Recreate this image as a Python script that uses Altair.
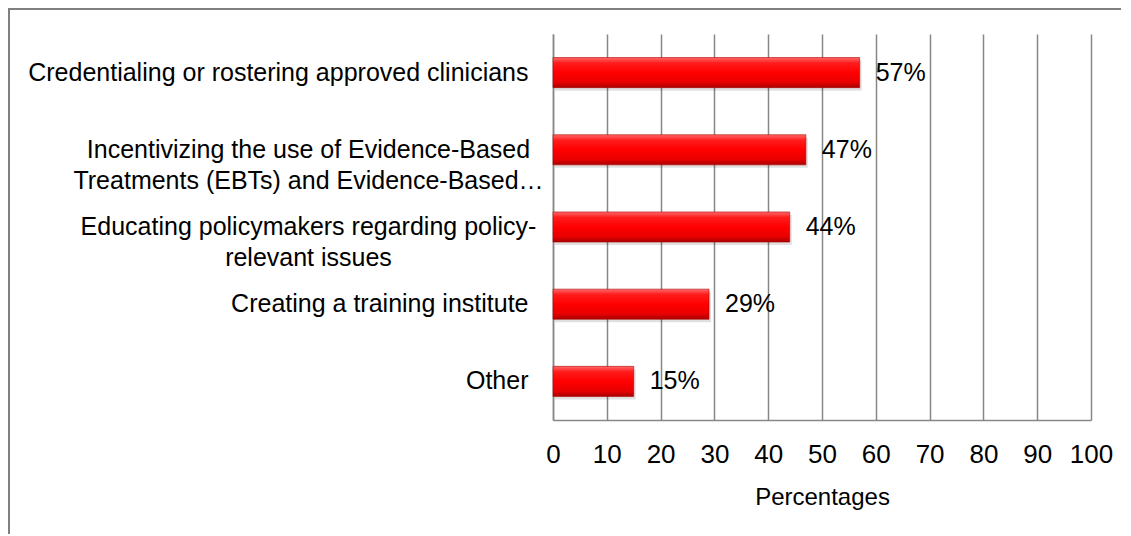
import altair as alt
import pandas as pd

categories = [
    "Credentialing or rostering approved clinicians",
    "Incentivizing the use of Evidence-Based\nTreatments (EBTs) and Evidence-Based…",
    "Educating policymakers regarding policy-\nrelevant issues",
    "Creating a training institute",
    "Other",
]
values = [57, 47, 44, 29, 15]
value_labels = ["57%", "47%", "44%", "29%", "15%"]
x_ticks = [0, 10, 20, 30, 40, 50, 60, 70, 80, 90, 100]
x_title = "Percentages"

df = pd.DataFrame({"category": categories, "value": values, "label": value_labels})

FONT = "Liberation Sans"
GRAY = "#878787"
W, H = 538, 386

multi_test = "indexof(datum.value, '\\n') >= 0"

x_enc = alt.X(
    "value:Q",
    scale=alt.Scale(domain=[0, 100], nice=False),
    title=x_title,
    axis=alt.Axis(
        values=x_ticks,
        grid=True,
        gridColor=GRAY,
        gridWidth=1.5,
        domain=True,
        domainColor=GRAY,
        domainWidth=1.5,
        ticks=False,
        labelFont=FONT,
        labelFontSize=26,
        labelColor="#000000",
        labelPadding=21,
        labelFlush=False,
        titleFont=FONT,
        titleFontSize=24,
        titleFontWeight="normal",
        titleColor="#000000",
        titlePadding=18,
    ),
)

y_enc = alt.Y(
    "category:N",
    sort=categories,
    title=None,
    scale=alt.Scale(paddingInner=0.61, paddingOuter=0.305),
    axis=alt.Axis(
        labelExpr="split(datum.label, '\\n')",
        labelFont=FONT,
        labelFontSize=25,
        labelColor="#000000",
        labelLineHeight=31,
        labelLimit=700,
        labelAlign=alt.condition(multi_test, alt.value("center"), alt.value("right")),
        labelPadding=alt.condition(multi_test, alt.value(245), alt.value(25)),
        ticks=False,
        domain=True,
        domainColor=GRAY,
        domainWidth=1.5,
        grid=False,
    ),
)

bar_fill = alt.Gradient(
    gradient="linear",
    x1=0, x2=0, y1=0, y2=1,
    stops=[
        alt.GradientStop(color="#ff6a6a", offset=0),
        alt.GradientStop(color="#ff1c1c", offset=0.18),
        alt.GradientStop(color="#ff0000", offset=0.5),
        alt.GradientStop(color="#e80000", offset=0.82),
        alt.GradientStop(color="#a80000", offset=1),
    ],
)

base = alt.Chart(df)

shadow = base.mark_bar(color="#000000", opacity=0.12).encode(
    x=x_enc, y=y_enc, xOffset=alt.value(2), yOffset=alt.value(3)
)

bars = base.mark_bar(color=bar_fill, stroke="#b00000", strokeWidth=0.6).encode(
    x=x_enc, y=y_enc
)

labels = base.mark_text(
    align="left", baseline="middle", dx=16, font=FONT, fontSize=25, color="#000000"
).encode(x="value:Q", y=alt.Y("category:N", sort=categories), text="label:N")

frame_df = pd.DataFrame({"k": [0]})
frame_left = alt.Chart(frame_df).mark_rule(color="#808080", strokeWidth=2, clip=False).encode(
    x=alt.value(-544), y=alt.value(-25), y2=alt.value(H + 200)
)
frame_top = alt.Chart(frame_df).mark_rule(color="#808080", strokeWidth=2, clip=False).encode(
    x=alt.value(-545), x2=alt.value(W + 100), y=alt.value(-25)
)

chart = (
    alt.layer(shadow, bars, labels, frame_left, frame_top)
    .properties(
        width=W,
        height=H,
        padding={"left": 545, "top": 26, "right": 30, "bottom": 114},
        autosize=alt.AutoSizeParams(type="none"),
        background="white",
    )
    .configure_view(stroke=None)
)

chart.save("out.html", embed_options={"renderer": "svg", "actions": False})
